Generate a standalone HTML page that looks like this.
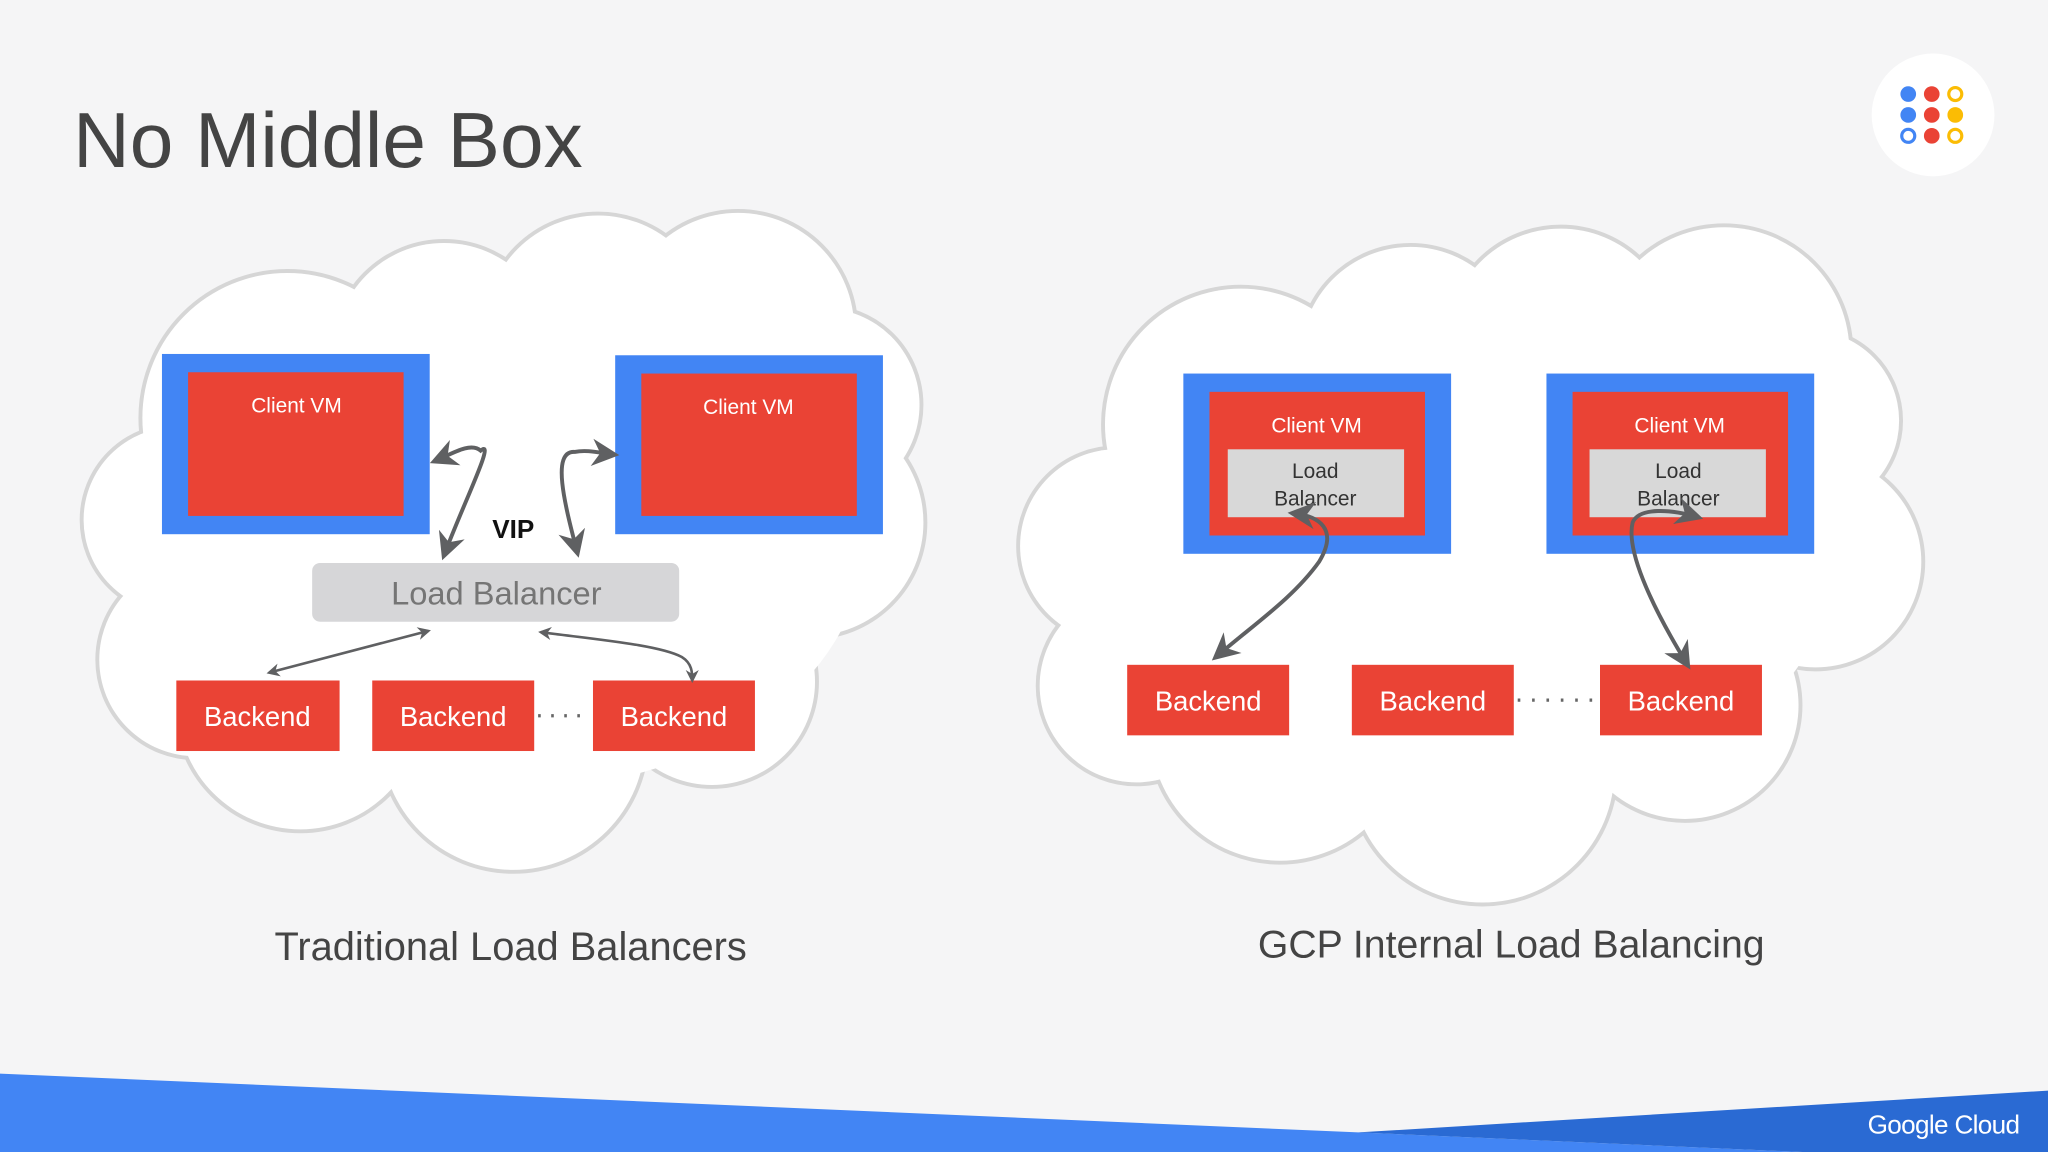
<!DOCTYPE html>
<html><head><meta charset="utf-8"><style>
html,body{margin:0;padding:0;background:#f5f5f6}
svg{display:block}
text{font-family:"Liberation Sans",sans-serif}
</style></head><body>
<svg width="2048" height="1152" viewBox="0 0 1568 882" xmlns="http://www.w3.org/2000/svg">
<defs>
<marker id="ah" viewBox="0 0 10 10" refX="8" refY="5" markerWidth="5" markerHeight="5" orient="auto-start-reverse"><path d="M0,0 L10,5 L0,10 L3,5 z" fill="#5f6062"/></marker>
<marker id="as" viewBox="0 0 10 10" refX="8" refY="5" markerWidth="7" markerHeight="7" orient="auto-start-reverse"><path d="M0,0 L10,5 L0,10 L3,5 z" fill="#5f6062"/></marker>
</defs>
<rect width="1568" height="882" fill="#f5f5f6"/>
<text x="56" y="128" font-size="60" fill="#444">No Middle Box</text>
<circle cx="1480" cy="88" r="47" fill="#fff"/>
<g stroke-width="2.4">
<circle cx="1461" cy="72" r="6" fill="#4285f4"/><circle cx="1479" cy="72" r="6" fill="#ea4335"/><circle cx="1497" cy="72" r="5" fill="none" stroke="#fbbc04"/>
<circle cx="1461" cy="88" r="6" fill="#4285f4"/><circle cx="1479" cy="88" r="6" fill="#ea4335"/><circle cx="1497" cy="88" r="6" fill="#fbbc04"/>
<circle cx="1461" cy="104" r="5" fill="none" stroke="#4285f4"/><circle cx="1479" cy="104" r="6" fill="#ea4335"/><circle cx="1497" cy="104" r="5" fill="none" stroke="#fbbc04"/>
</g>
<!-- left cloud -->
<g stroke="#d6d6d6" stroke-width="4" fill="#fff">
<circle cx="220" cy="320" r="112"/><circle cx="340" cy="270" r="85"/><circle cx="458" cy="252" r="88"/><circle cx="565" cy="252" r="90"/><circle cx="630" cy="310" r="75"/><circle cx="620" cy="400" r="88"/><circle cx="545" cy="522" r="80"/><circle cx="393" cy="565" r="102"/><circle cx="230" cy="541" r="95"/><circle cx="150" cy="505" r="75"/><circle cx="135" cy="398" r="72"/>
</g>
<g fill="#fff">
<circle cx="220" cy="320" r="111"/><circle cx="340" cy="270" r="84"/><circle cx="458" cy="252" r="87"/><circle cx="565" cy="252" r="89"/><circle cx="630" cy="310" r="74"/><circle cx="620" cy="400" r="87"/><circle cx="545" cy="522" r="79"/><circle cx="393" cy="565" r="101"/><circle cx="230" cy="541" r="94"/><circle cx="150" cy="505" r="74"/><circle cx="135" cy="398" r="71"/>
<ellipse cx="390" cy="420" rx="270" ry="185"/>
<circle cx="595" cy="470" r="48"/>
</g>
<!-- right cloud -->
<g stroke="#d6d6d6" stroke-width="4" fill="#fff">
<circle cx="950" cy="325" r="105"/><circle cx="1080" cy="273" r="85"/><circle cx="1195" cy="262" r="88"/><circle cx="1320" cy="270" r="97"/><circle cx="1385" cy="322" r="70"/><circle cx="1390" cy="430" r="82"/><circle cx="1290" cy="540" r="88"/><circle cx="1135" cy="590" r="102"/><circle cx="980" cy="560" r="100"/><circle cx="870" cy="525" r="75"/><circle cx="855" cy="418" r="75"/>
</g>
<g fill="#fff">
<circle cx="950" cy="325" r="104"/><circle cx="1080" cy="273" r="84"/><circle cx="1195" cy="262" r="87"/><circle cx="1320" cy="270" r="96"/><circle cx="1385" cy="322" r="69"/><circle cx="1390" cy="430" r="81"/><circle cx="1290" cy="540" r="87"/><circle cx="1135" cy="590" r="101"/><circle cx="980" cy="560" r="99"/><circle cx="870" cy="525" r="74"/><circle cx="855" cy="418" r="74"/>
<ellipse cx="1125" cy="425" rx="280" ry="195"/>
</g>
<!-- left diagram -->
<rect x="124" y="271" width="205" height="138" fill="#4285f4"/><rect x="144" y="285" width="165" height="110" fill="#ea4335"/>
<text x="227" y="316" font-size="16" fill="#fff" text-anchor="middle">Client VM</text>
<rect x="471" y="272" width="205" height="137" fill="#4285f4"/><rect x="491" y="286" width="165" height="109" fill="#ea4335"/>
<text x="573" y="317" font-size="16" fill="#fff" text-anchor="middle">Client VM</text>
<text x="393" y="412" font-size="20" font-weight="bold" fill="#111" text-anchor="middle">VIP</text>
<rect x="239" y="431" width="281" height="45" rx="6" fill="#d6d6d8"/>
<text x="380" y="463" font-size="25" fill="#757575" text-anchor="middle">Load Balancer</text>
<rect x="135" y="521" width="125" height="54" fill="#ea4335"/><text x="197" y="556" font-size="21" fill="#fff" text-anchor="middle">Backend</text>
<rect x="285" y="521" width="124" height="54" fill="#ea4335"/><text x="347" y="556" font-size="21" fill="#fff" text-anchor="middle">Backend</text>
<rect x="454" y="521" width="124" height="54" fill="#ea4335"/><text x="516" y="556" font-size="21" fill="#fff" text-anchor="middle">Backend</text>
<line x1="412" y1="548" x2="452" y2="548" stroke="#666" stroke-width="2.5" stroke-dasharray="2,8"/>
<g fill="none" stroke="#5f6062" stroke-width="3">
<path d="M340,425 C355,385 380,335 368,345 C360,338 345,348 333,353" marker-start="url(#as)" marker-end="url(#as)"/>
<path d="M442,423 C432,385 422,345 440,346 C450,344 460,347 470,348" marker-start="url(#as)" marker-end="url(#as)"/>
</g>
<g fill="none" stroke="#5f6062" stroke-width="2">
<line x1="206" y1="515" x2="328" y2="483" marker-start="url(#ah)" marker-end="url(#ah)"/>
<path d="M414,484 C460,490 505,494 522,503 C530,508 530,515 530,521" marker-start="url(#ah)" marker-end="url(#ah)"/>
</g>
<text x="391" y="735" font-size="30.5" fill="#444" text-anchor="middle">Traditional Load Balancers</text>
<!-- right diagram -->
<rect x="906" y="286" width="205" height="138" fill="#4285f4"/><rect x="926" y="300" width="165" height="110" fill="#ea4335"/>
<rect x="940" y="344" width="135" height="52" fill="#d8d8d8"/>
<text x="1008" y="331" font-size="16" fill="#fff" text-anchor="middle">Client VM</text>
<text x="1007" y="366" font-size="16" fill="#333" text-anchor="middle">Load</text>
<text x="1007" y="387" font-size="16" fill="#333" text-anchor="middle">Balancer</text>
<rect x="1184" y="286" width="205" height="138" fill="#4285f4"/><rect x="1204" y="300" width="165" height="110" fill="#ea4335"/>
<rect x="1217" y="344" width="135" height="52" fill="#d8d8d8"/>
<text x="1286" y="331" font-size="16" fill="#fff" text-anchor="middle">Client VM</text>
<text x="1285" y="366" font-size="16" fill="#333" text-anchor="middle">Load</text>
<text x="1285" y="387" font-size="16" fill="#333" text-anchor="middle">Balancer</text>
<rect x="863" y="509" width="124" height="54" fill="#ea4335"/><text x="925" y="544" font-size="21" fill="#fff" text-anchor="middle">Backend</text>
<rect x="1035" y="509" width="124" height="54" fill="#ea4335"/><text x="1097" y="544" font-size="21" fill="#fff" text-anchor="middle">Backend</text>
<rect x="1225" y="509" width="124" height="54" fill="#ea4335"/><text x="1287" y="544" font-size="21" fill="#fff" text-anchor="middle">Backend</text>
<line x1="1162" y1="536" x2="1222" y2="536" stroke="#666" stroke-width="2.5" stroke-dasharray="2,9"/>
<g fill="none" stroke="#5f6062" stroke-width="3">
<path d="M990,393 C1010,395 1025,405 1010,430 C990,458 960,478 931,503" marker-start="url(#as)" marker-end="url(#as)"/>
<path d="M1300,396 C1280,390 1255,388 1250,400 C1245,420 1262,460 1292,509" marker-start="url(#as)" marker-end="url(#as)"/>
</g>
<text x="1157" y="733" font-size="30" fill="#444" text-anchor="middle">GCP Internal Load Balancing</text>
<!-- footer -->
<polygon points="0,822 1040,867 1380,882 0,882" fill="#4285f4"/>
<polygon points="1040,867 1568,835 1568,882 1380,882" fill="#2a6ad3"/>
<text x="1488" y="868" font-size="20" fill="#fff" text-anchor="middle" letter-spacing="-0.5">Google Cloud</text>
</svg>
</body></html>
